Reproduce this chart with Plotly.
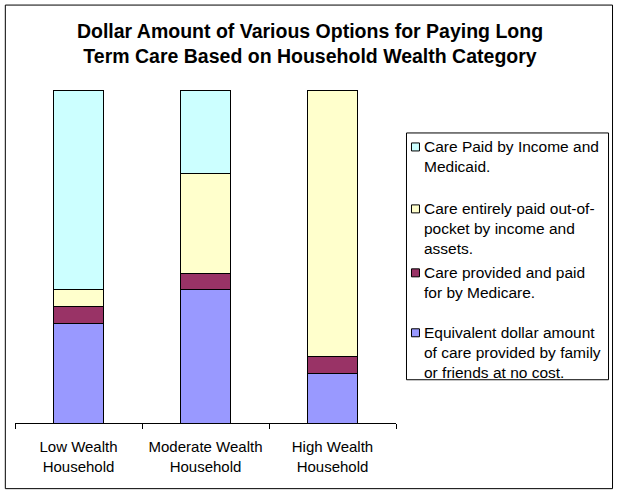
import plotly.graph_objects as go

# Categories and percentage shares
households = ["Low Wealth<br>Household", "Moderate Wealth<br>Household", "High Wealth<br>Household"]

family_free = [30, 40, 15]
medicare = [5, 5, 5]
out_of_pocket = [5, 30, 80]
income_medicaid = [60, 25, 0]

series_names = [
    "Equivalent dollar amount<br>of care provided by family<br>or friends at no cost.",
    "Care provided and paid<br>for by Medicare.",
    "Care entirely paid out-of-<br>pocket by income and<br>assets.",
    "Care Paid by Income and<br>Medicaid.",
]
series_values = [family_free, medicare, out_of_pocket, income_medicaid]
series_colors = ["#9999FF", "#993366", "#FFFFCC", "#CCFFFF"]

FONT = "Arial, Liberation Sans, sans-serif"

fig = go.Figure()

for name, vals, col in zip(series_names, series_values, series_colors):
    fig.add_trace(
        go.Bar(
            x=households,
            y=vals,
            name=name,
            marker=dict(color=col, line=dict(color="black", width=1)),
        )
    )


# pixel -> paper helpers (plot area is 15..396.5 x 90..423.3)
def px_x(p):
    return (p - 15) / 381.5


def px_y(p):
    return (423.3 - p) / 333.3


# Layout
fig.update_layout(
    width=620,
    height=495,
    barmode="stack",
    bargap=0.6,
    plot_bgcolor="white",
    paper_bgcolor="white",
    font=dict(family=FONT, size=15, color="black"),
    margin=dict(l=15, r=224, t=90, b=72, autoexpand=False),
    showlegend=False,
    title=dict(
        text="<b>Dollar Amount of Various Options for Paying Long<br>Term Care Based on Household Wealth Category</b>",
        x=0.5,
        xref="container",
        xanchor="center",
        y=1 - 38 / 495,
        yref="container",
        yanchor="middle",
        font=dict(size=19.5, family=FONT, color="black"),
    ),
)

# Outer chart border
fig.add_shape(
    type="rect", xref="paper", yref="paper",
    x0=px_x(5.3), x1=px_x(613.3), y0=px_y(489), y1=px_y(5),
    line=dict(color="black", width=1), fillcolor="rgba(0,0,0,0)",
)

# Legend box, drawn by hand to follow the Excel layout (cyan on top)
fig.add_shape(
    type="rect", xref="paper", yref="paper",
    x0=px_x(407), x1=px_x(609.3), y0=px_y(380), y1=px_y(133),
    line=dict(color="black", width=1), fillcolor="white",
)
legend_rows = [333, 273, 209, 147]  # first-line centres, same order as series
for name, col, row in zip(series_names, series_colors, legend_rows):
    fig.add_shape(
        type="rect", xref="paper", yref="paper",
        x0=px_x(412), x1=px_x(420), y0=px_y(row + 4), y1=px_y(row - 4),
        line=dict(color="black", width=1), fillcolor=col,
    )
    fig.add_annotation(
        xref="paper", yref="paper",
        x=px_x(423), y=px_y(row - 10.5),
        xanchor="left", yanchor="top", align="left",
        text=name, showarrow=False,
        font=dict(size=15.5, family=FONT, color="black"),
    )

fig.update_xaxes(
    showline=True,
    linecolor="black",
    linewidth=1,
    ticks="outside",
    tickson="boundaries",
    ticklen=5,
    tickcolor="black",
    tickangle=0,
    ticklabelstandoff=10,
    showgrid=False,
    automargin=False,
)

fig.update_yaxes(
    range=[0, 100],
    visible=False,
    showgrid=False,
)

# page body margin removed so the figure sits at the window's corner
fig.write_html(
    "out.html",
    config={"displayModeBar": False},
    post_script="document.body.style.margin='0';",
)
